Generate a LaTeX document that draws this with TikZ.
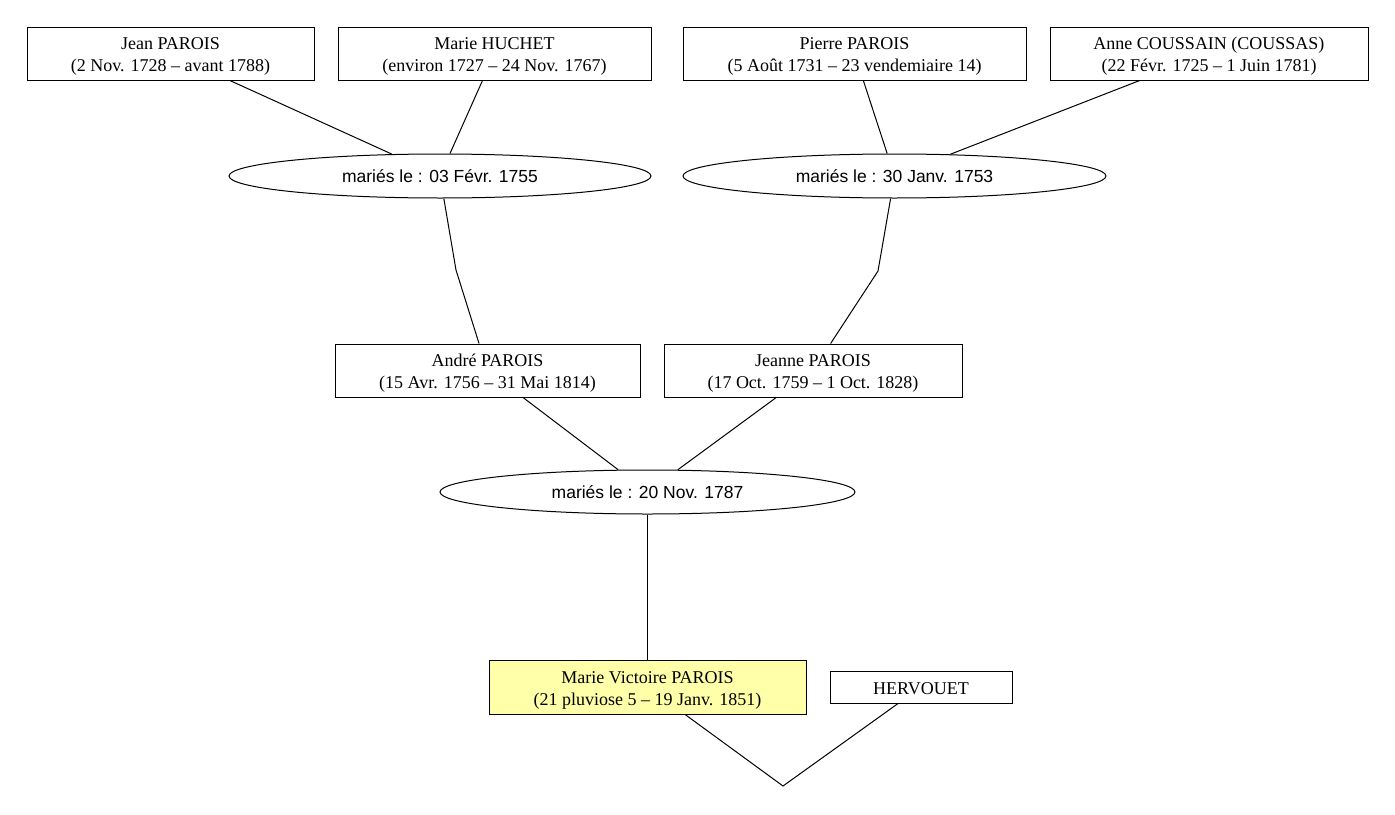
\documentclass[tikz,border=0pt]{standalone}
\usepackage{fontspec}
\setmainfont{Liberation Serif}
\newfontfamily\weddingfont{Liberation Sans}
\usetikzlibrary{shapes.geometric}
% struts so that the text sits as low as in the boxes of the chart
\newcommand\hi{\rule{0pt}{19pt}}
\newcommand\lo{\rule[-5pt]{0pt}{5pt}}
\begin{document}
\begin{tikzpicture}[x=1pt,y=-1pt,line width=1pt,
    person/.style={draw, inner sep=0pt, minimum height=53pt, align=center, font=\fontsize{18}{22}\selectfont},
    wedding/.style={draw, ellipse, inner sep=0pt, minimum width=422pt, minimum height=44pt, font=\weddingfont\fontsize{17.5}{21}\selectfont}]
        \useasboundingbox (0,0) rectangle (1395,814);
        \node[person, minimum width=287pt] (jean) at (170.5,53.5) {\hi Jean PAROIS\\(2 Nov. 1728 -- avant 1788)\lo};
        \node[person, minimum width=313pt] (huchet) at (494.5,53.5) {\hi Marie HUCHET\\(environ 1727 -- 24 Nov. 1767)\lo};
        \node[person, minimum width=343pt] (pierre) at (854.5,53.5) {\hi Pierre PAROIS\\(5 Août 1731 -- 23 vendemiaire 14)\lo};
        \node[person, minimum width=318pt] (anne) at (1209,53.5) {\hi Anne COUSSAIN (COUSSAS)\\(22 Févr. 1725 -- 1 Juin 1781)\lo};
        \node[wedding] (m1755) at (440,176) {mariés le : 03 Févr. 1755};
        \node[wedding, minimum width=423pt] (m1753) at (894.5,176) {mariés le : 30 Janv. 1753};
        \node[person, minimum width=305pt] (andre) at (487.5,370.5) {\hi André PAROIS\\(15 Avr. 1756 -- 31 Mai 1814)\lo};
        \node[person, minimum width=298pt] (jeanne) at (813,370.5) {\hi Jeanne PAROIS\\(17 Oct. 1759 -- 1 Oct. 1828)\lo};
        \node[wedding, minimum width=415pt] (m1787) at (647.5,492) {mariés le : 20 Nov. 1787};
        \node[person, minimum width=317pt, minimum height=54pt, fill={rgb,255:red,255;green,255;blue,170}] (victoire) at (647.5,687) {\hi Marie Victoire PAROIS\\(21 pluviose 5 -- 19 Janv. 1851)\lo};
        \node[person, minimum width=182pt, minimum height=32pt] (hervouet) at (921,687) {\hi HERVOUET\lo};
        % relay points between a marriage and its child
        \coordinate (k1755) at (456,270);
        \coordinate (k1753) at (878,271);
        \coordinate (k1787) at (647.5,587);
        \coordinate (k1800) at (783,786);
        \draw (jean) -- (m1755);
        \draw (huchet) -- (m1755);
        \draw (pierre) -- (m1753);
        \draw (anne) -- (m1753);
        \draw (m1755) -- (k1755) -- (andre);
        \draw (m1753) -- (k1753) -- (jeanne);
        \draw (andre) -- (m1787);
        \draw (jeanne) -- (m1787);
        \draw (m1787) -- (k1787) -- (victoire);
        \draw (victoire) -- (k1800) -- (hervouet);
    \end{tikzpicture}
\end{document}
